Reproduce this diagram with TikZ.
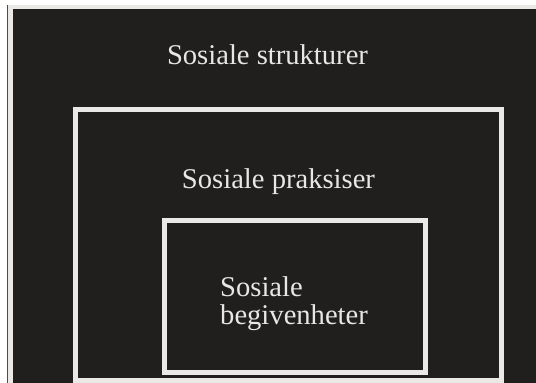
\documentclass[tikz,border=0pt]{standalone}
\usepackage{fontspec}
\setmainfont{Liberation Serif}
\definecolor{bgdark}{HTML}{211F1D}
\definecolor{framelight}{HTML}{EBE9E6}
\definecolor{txtlight}{HTML}{E9E7E4}
\tikzset{
  framebox/.style={draw=framelight, line width=5pt, inner sep=0pt, outer sep=0pt, anchor=south west},
  label/.style={text=txtlight, font=\fontsize{28.6}{28}\selectfont, inner sep=0pt}
}
\begin{document}
\begin{tikzpicture}[x=1pt,y=1pt]
\useasboundingbox (0,0) rectangle (536,383);
\fill[white] (0,0) rectangle (536,383);
\fill[bgdark!80] (7,0) rectangle (536,378);
\fill[framelight] (8,0) rectangle (536,378);
\fill[bgdark] (12.5,0) rectangle (536,374);
\node[framebox, minimum width=426pt, minimum height=271pt] (praksis) at (75.5,2.5) {};
\node[framebox, minimum width=261pt, minimum height=152pt] (hendelse) at (164.5,10.5) {};
\node[label, anchor=base] (t1) at (267.5,318) {Sosiale strukturer};
\node[label, anchor=base] (t2) at (278.5,194) {Sosiale praksiser};
\node[label, anchor=base west, align=left] (t3) at (220,58) {Sosiale\\begivenheter};
\end{tikzpicture}
\end{document}
